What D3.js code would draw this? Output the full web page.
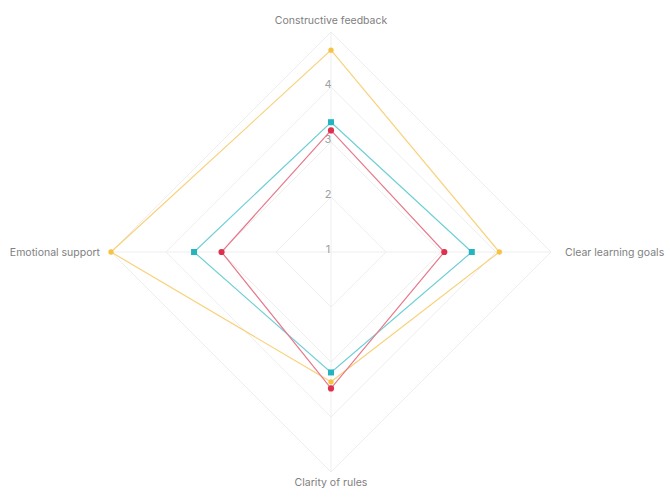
<!DOCTYPE html>
<html>
<head>
<meta charset="utf-8">
<script src="https://cdn.jsdelivr.net/npm/d3@7"></script>
<style>
  body { margin: 0; background: #fff; }
  text { font-family: Inter, "Noto Sans", sans-serif; }
</style>
</head>
<body>
<svg id="chart"></svg>
<script>
var screen = {width: 665, height: 490}
var center = {x: 331, y: 252}
var radius = 220

// axes, clockwise from the top
var axes = ["Constructive feedback", "Clear learning goals", "Clarity of rules", "Emotional support"]
var tickValues = [1, 2, 3, 4]
var ringValues = [2, 3, 4, 5]

// one value per axis, same order as above
var yellowSeries = [4.67, 4.06, 3.36, 5.0]
var cyanSeries = [3.36, 3.56, 3.19, 3.49]
var redSeries = [3.21, 3.06, 3.48, 2.99]

var series = [
  {name: "yellow", values: yellowSeries, color: "#f7c244", line: "#f8d27e", shape: "diamond"},
  {name: "cyan", values: cyanSeries, color: "#23b5bf", line: "#6fcfd6", shape: "square"},
  {name: "red", values: redSeries, color: "#de2f4c", line: "#e8788b", shape: "circle"}
]

var svg = d3.select("#chart")
  .attr("width", screen.width)
  .attr("height", screen.height)

var g = svg.append("g")
  .attr("transform", "translate(" + center.x + "," + center.y + ")")

var rScale = d3.scaleLinear().domain([1, 5]).range([0, radius])
var aScale = d3.scalePoint().domain(axes.concat(["_end"])).range([0, 2 * Math.PI])

// point for a value on an axis
var point = function(axis, value) {
  var a = aScale(axis)
  var r = rScale(value)
  return [r * Math.sin(a), -r * Math.cos(a)]
}

// grid rings
g.selectAll(".ring")
  .data(ringValues)
  .enter()
  .append("polygon")
  .attr("class", "ring")
  .attr("points", function(v) {
    return axes.map(function(ax) { return point(ax, v).join(",") }).join(" ")
  })
  .attr("fill", "none")
  .attr("stroke", "#eeeeee")
  .attr("stroke-width", 1)

// axis lines
g.selectAll(".spoke")
  .data(axes)
  .enter()
  .append("line")
  .attr("class", "spoke")
  .attr("x1", 0).attr("y1", 0)
  .attr("x2", function(ax) { return point(ax, 5)[0] })
  .attr("y2", function(ax) { return point(ax, 5)[1] })
  .attr("stroke", "#eeeeee")

// tick labels up the first axis
g.selectAll(".tick")
  .data(tickValues)
  .enter()
  .append("text")
  .attr("class", "tick")
  .attr("x", -3)
  .attr("y", function(v) { return -rScale(v) + 1 })
  .attr("text-anchor", "middle")
  .attr("font-size", 11)
  .attr("fill", "#a0a0a0")
  .text(function(v) { return v })

// axis titles
var labelPos = [
  {dx: 0, dy: -228, anchor: "middle"},
  {dx: 234, dy: 4, anchor: "start"},
  {dx: 0, dy: 234, anchor: "middle"},
  {dx: -231, dy: 4, anchor: "end"}
]
g.selectAll(".axis-label")
  .data(axes)
  .enter()
  .append("text")
  .attr("class", "axis-label")
  .attr("x", function(ax, i) { return labelPos[i].dx })
  .attr("y", function(ax, i) { return labelPos[i].dy })
  .attr("text-anchor", function(ax, i) { return labelPos[i].anchor })
  .attr("font-size", 10.5)
  .attr("fill", "#808080")
  .text(function(ax) { return ax })

// series outlines
var lineGen = d3.line().curve(d3.curveLinearClosed)

var groups = g.selectAll(".series")
  .data(series)
  .enter()
  .append("g")
  .attr("class", "series")

groups.append("path")
  .attr("d", function(s) {
    return lineGen(axes.map(function(ax, i) { return point(ax, s.values[i]) }))
  })
  .attr("fill", "none")
  .attr("stroke", function(s) { return s.line })
  .attr("stroke-width", 1.2)

// markers
var symbols = {circle: d3.symbolCircle, square: d3.symbolSquare, diamond: d3.symbolCircle}
var sizes = {circle: 30, square: 36, diamond: 22}

groups.selectAll(".marker")
  .data(function(s) {
    return s.values.map(function(v, i) { return {s: s, axis: axes[i], v: v} })
  })
  .enter()
  .append("path")
  .attr("class", "marker")
  .attr("transform", function(d) {
    var p = point(d.axis, d.v)
    return "translate(" + p[0] + "," + p[1] + ")"
  })
  .attr("d", function(d) { return d3.symbol().type(symbols[d.s.shape]).size(sizes[d.s.shape])() })
  .attr("fill", function(d) { return d.s.color })
</script>
</body>
</html>
